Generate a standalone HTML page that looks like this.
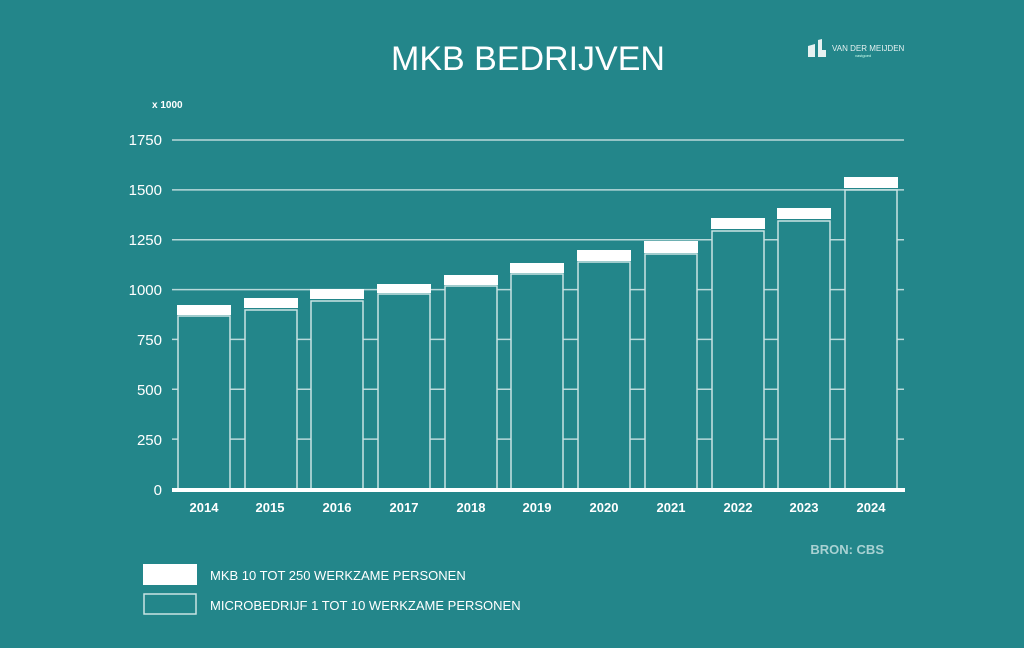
<!DOCTYPE html>
<html><head><meta charset="utf-8"><style>
html,body{margin:0;padding:0;background:#23868a;}
svg{display:block;font-family:"Liberation Sans",sans-serif;}
</style></head><body>
<svg width="1024" height="648" viewBox="0 0 1024 648">
<rect width="1024" height="648" fill="#23868a"/>
<text x="528" y="70" fill="#fff" font-size="34" text-anchor="middle">MKB BEDRIJVEN</text>
<g fill="#e6f1f1">
<path d="M808 57 L808 46 L815 44 L815 57 Z M818 57 L818 40 L822 39 L822 50 L826 50 L826 57 Z"/>
<text x="832" y="51" font-size="8" fill="#e6f1f1">VAN DER MEIJDEN</text>
<text x="855" y="57" font-size="4" fill="#cfe">vastgoed</text>
</g>
<text x="152" y="108" fill="#fff" font-size="10" font-weight="bold">x 1000</text>
<g stroke="#b9d9da" stroke-width="1.5">
<line x1="172" y1="439.1" x2="904" y2="439.1"/>
<line x1="172" y1="389.3" x2="904" y2="389.3"/>
<line x1="172" y1="339.4" x2="904" y2="339.4"/>
<line x1="172" y1="289.6" x2="904" y2="289.6"/>
<line x1="172" y1="239.7" x2="904" y2="239.7"/>
<line x1="172" y1="189.9" x2="904" y2="189.9"/>
<line x1="172" y1="140" x2="904" y2="140"/>
</g>
<g fill="#fff" font-size="15" text-anchor="end">
<text x="162" y="495">0</text>
<text x="162" y="445">250</text>
<text x="162" y="395">500</text>
<text x="162" y="345">750</text>
<text x="162" y="295">1000</text>
<text x="162" y="245">1250</text>
<text x="162" y="195">1500</text>
<text x="162" y="145">1750</text>
</g>
<g stroke="#c9e3e3" stroke-width="1.5" fill="#23868a">
<rect x="178" y="316" width="52" height="174"/>
<rect x="245" y="310" width="52" height="180"/>
<rect x="311" y="301" width="52" height="189"/>
<rect x="378" y="294" width="52" height="196"/>
<rect x="445" y="286" width="52" height="204"/>
<rect x="511" y="274" width="52" height="216"/>
<rect x="578" y="262" width="52" height="228"/>
<rect x="645" y="254" width="52" height="236"/>
<rect x="712" y="231" width="52" height="259"/>
<rect x="778" y="221" width="52" height="269"/>
<rect x="845" y="190" width="52" height="300"/>
</g>
<g fill="#fff">
<rect x="177" y="305" width="54" height="10"/>
<rect x="244" y="298" width="54" height="10"/>
<rect x="310" y="289" width="54" height="10"/>
<rect x="377" y="284" width="54" height="9"/>
<rect x="444" y="275" width="54" height="10"/>
<rect x="510" y="263" width="54" height="10"/>
<rect x="577" y="250" width="54" height="11"/>
<rect x="644" y="241" width="54" height="12"/>
<rect x="711" y="218" width="54" height="11"/>
<rect x="777" y="208" width="54" height="11"/>
<rect x="844" y="177" width="54" height="11"/>
<rect x="172" y="488" width="733" height="4"/>
</g>
<g fill="#fff" font-size="13" font-weight="bold" text-anchor="middle">
<text x="204" y="512">2014</text><text x="270" y="512">2015</text><text x="337" y="512">2016</text>
<text x="404" y="512">2017</text><text x="471" y="512">2018</text><text x="537" y="512">2019</text>
<text x="604" y="512">2020</text><text x="671" y="512">2021</text><text x="738" y="512">2022</text>
<text x="804" y="512">2023</text><text x="871" y="512">2024</text>
</g>
<text x="884" y="554" fill="#a9d2d3" font-size="13" font-weight="bold" text-anchor="end">BRON: CBS</text>
<rect x="143" y="564" width="54" height="21" fill="#fff"/>
<rect x="144" y="594" width="52" height="20" fill="none" stroke="#c9e3e3" stroke-width="1.5"/>
<text x="210" y="580" fill="#fff" font-size="13">MKB 10 TOT 250 WERKZAME PERSONEN</text>
<text x="210" y="610" fill="#fff" font-size="13">MICROBEDRIJF 1 TOT 10 WERKZAME PERSONEN</text>
</svg>
</body></html>
